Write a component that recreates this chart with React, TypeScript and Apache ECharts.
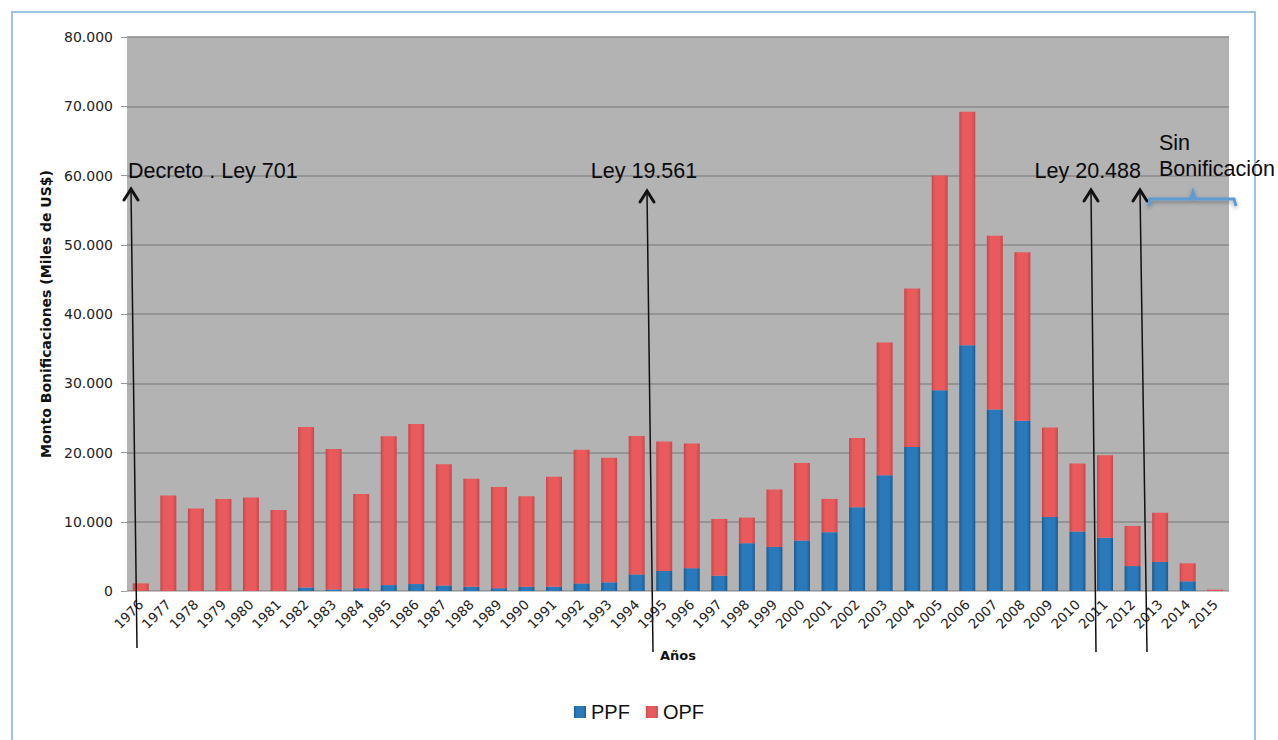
import React, { useEffect, useRef } from "react";
import * as echarts from "echarts";

const years: string[] = [
  "1976", "1977", "1978", "1979", "1980", "1981", "1982", "1983", "1984", "1985",
  "1986", "1987", "1988", "1989", "1990", "1991", "1992", "1993", "1994", "1995",
  "1996", "1997", "1998", "1999", "2000", "2001", "2002", "2003", "2004", "2005",
  "2006", "2007", "2008", "2009", "2010", "2011", "2012", "2013", "2014", "2015",
];

// Miles de US$
const ppf: number[] = [
  0, 0, 0, 0, 0, 0, 500, 200, 400, 850,
  1000, 800, 600, 400, 600, 600, 1100, 1250, 2400, 2900,
  3300, 2200, 6900, 6350, 7300, 8500, 12100, 16700, 20800, 29000,
  35500, 26200, 24600, 10700, 8600, 7700, 3600, 4200, 1400, 0,
];

const opf: number[] = [
  1100, 13800, 11900, 13300, 13500, 11700, 23200, 20300, 13600, 21500,
  23100, 17500, 15600, 14600, 13100, 15900, 19300, 18000, 20000, 18700,
  18000, 8200, 3700, 8300, 11200, 4800, 10000, 19200, 22900, 31000,
  33700, 25100, 24300, 12900, 9800, 11900, 5800, 7100, 2600, 200,
];

const yTicks = { min: 0, max: 80000, interval: 10000 };

const annotations = [
  { label: "Decreto . Ley 701", tx: 128, align: "left", tip: [131, 189], base: [137, 648] },
  { label: "Ley 19.561", tx: 644, align: "center", tip: [647, 191], base: [653, 652] },
  { label: "Ley 20.488", tx: 1141, align: "right", tip: [1091, 190], base: [1096, 652] },
  { label: "", tx: 0, align: "left", tip: [1140, 190], base: [1147, 652] },
];

const annotFont = "21.5px 'Liberation Sans', Arial, sans-serif";

function fmt(v: number): string {
  if (v === 0) return "0";
  const s = String(Math.round(v));
  return s.replace(/\B(?=(\d{3})+(?!\d))/g, ".");
}

function grad(edge: string, mid: string) {
  return new echarts.graphic.LinearGradient(0, 0, 1, 0, [
    { offset: 0, color: edge },
    { offset: 0.22, color: mid },
    { offset: 0.78, color: mid },
    { offset: 1, color: edge },
  ]);
}

export default function App() {
  const ref = useRef<HTMLDivElement>(null);
  useEffect(() => {
    document.body.style.margin = "0";
    const chart = echarts.init(ref.current!, null, { renderer: "svg" });
    const graphics: any[] = [
      {
        type: "rect",
        shape: { x: 12, y: 12, width: 1243, height: 760 },
        style: { fill: "none", stroke: "#9dc3e6", lineWidth: 2 },
        z: 0,
      },
    ];
    annotations.forEach((a) => {
      graphics.push({
        type: "line",
        shape: { x1: a.base[0], y1: a.base[1], x2: a.tip[0], y2: a.tip[1] + 1 },
        style: { stroke: "#111", lineWidth: 1.5 },
        z: 100,
      });
      graphics.push({
        type: "polyline",
        shape: {
          points: [
            [a.tip[0] - 7, a.tip[1] + 11],
            [a.tip[0], a.tip[1]],
            [a.tip[0] + 7, a.tip[1] + 11],
          ],
        },
        style: { stroke: "#111", lineWidth: 3, fill: "none", lineCap: "round", lineJoin: "miter" },
        z: 100,
      });
      if (a.label) {
        graphics.push({
          type: "text",
          x: a.tx,
          y: 171,
          style: {
            text: a.label,
            font: annotFont,
            fill: "#0a0a0a",
            textAlign: a.align,
            textVerticalAlign: "middle",
          },
          z: 100,
        });
      }
    });
    graphics.push({
      type: "text",
      x: 1159,
      y: 143,
      style: { text: "Sin", font: annotFont, fill: "#0a0a0a", textVerticalAlign: "middle" },
      z: 100,
    });
    graphics.push({
      type: "text",
      x: 1159,
      y: 169,
      style: { text: "Bonificación", font: annotFont, fill: "#0a0a0a", textVerticalAlign: "middle" },
      z: 100,
    });
    graphics.push({
      type: "polyline",
      shape: {
        points: [
          [1149, 206],
          [1150, 199],
          [1191, 199],
          [1193, 192],
          [1195, 199],
          [1234, 199],
          [1236, 206],
        ],
      },
      style: {
        stroke: "#5b9bd5",
        lineWidth: 3,
        fill: "none",
        shadowBlur: 4,
        shadowColor: "rgba(0,0,0,0.35)",
        shadowOffsetY: 2,
      },
      z: 100,
    });

    chart.setOption({
      animation: false,
      backgroundColor: "#ffffff",
      grid: {
        left: 127,
        right: 49,
        top: 37,
        bottom: 149,
        show: true,
        backgroundColor: "#b3b3b3",
        borderWidth: 0,
      },
      legend: {
        data: ["PPF", "OPF"],
        left: "center",
        top: 697,
        icon: "rect",
        itemWidth: 12,
        itemHeight: 12,
        itemGap: 16,
        textStyle: { fontSize: 20, fontFamily: "'Liberation Sans', Arial, sans-serif", color: "#111" },
      },
      xAxis: {
        type: "category",
        data: years,
        name: "Años",
        nameLocation: "middle",
        nameGap: 58,
        nameTextStyle: { fontSize: 13, fontWeight: "bold", fontFamily: "'DejaVu Sans', sans-serif", color: "#111" },
        axisLine: { show: true, lineStyle: { color: "#c4c4c4", width: 1 } },
        axisTick: { show: false },
        axisLabel: {
          rotate: 45,
          interval: 0,
          margin: 11,
          fontSize: 13.5,
          fontFamily: "'DejaVu Sans', sans-serif",
          color: "#222",
        },
      },
      yAxis: {
        type: "value",
        min: yTicks.min,
        max: yTicks.max,
        interval: yTicks.interval,
        name: "Monto Bonificaciones (Miles de US$)",
        nameLocation: "middle",
        nameGap: 72,
        nameTextStyle: { fontSize: 14, fontWeight: "bold", fontFamily: "'DejaVu Sans', sans-serif", color: "#111" },
        axisLine: { show: false },
        axisTick: { show: true, length: 6, lineStyle: { color: "#999" } },
        axisLabel: {
          margin: 14,
          fontSize: 14,
          fontFamily: "'DejaVu Sans', sans-serif",
          color: "#222",
          formatter: (v: number) => fmt(v),
        },
        splitLine: { show: true, lineStyle: { color: "#8a8a8a", width: 1.5 } },
      },
      series: [
        {
          name: "PPF",
          type: "bar",
          stack: "total",
          barWidth: 16,
          data: ppf,
          itemStyle: { color: grad("#1d5a90", "#2a79bb") },
        },
        {
          name: "OPF",
          type: "bar",
          stack: "total",
          barWidth: 16,
          data: opf,
          itemStyle: { color: grad("#c9474a", "#e85a5c") },
        },
      ],
      graphic: graphics,
    });
    return () => chart.dispose();
  }, []);
  return <div ref={ref} style={{ width: 1278, height: 740, position: "absolute", left: 0, top: 0 }} />;
}
